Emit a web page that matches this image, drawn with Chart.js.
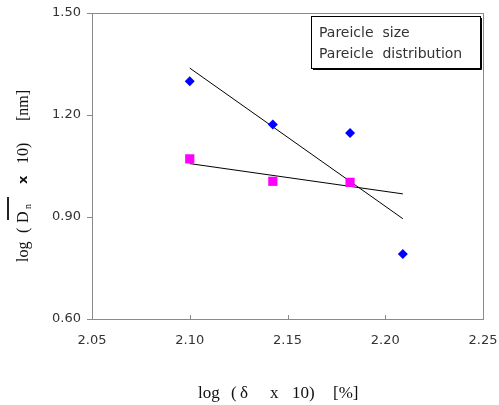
<!DOCTYPE html>
<html>
<head>
<meta charset="utf-8">
<script src="https://cdn.jsdelivr.net/npm/chart.js@4"></script>
<style>
  html, body { margin: 0; padding: 0; background: #fff; }
</style>
</head>
<body>
<canvas id="chart" width="499" height="405"></canvas>
<script>
'use strict';

// valori
const sizeX = [2.100, 2.1425, 2.182, 2.209];
const sizeY = [1.299, 1.172, 1.147, 0.791];
const distX = [2.100, 2.1425, 2.182];
const distY = [1.071, 1.005, 1.002];

// estremi delle rette di tendenza
const sizeFitX = [2.100, 2.209];
const sizeFitY = [1.338, 0.895];
const distFitX = [2.100, 2.209];
const distFitY = [1.057, 0.968];

const xTicks = [2.05, 2.10, 2.15, 2.20, 2.25];
const yTicks = [0.60, 0.90, 1.20, 1.50];
const legendLabels = ['Pareicle  size', 'Pareicle  distribution'];

const axisColor = '#8a8a8a';
const labelColor = '#333';
const serif = '"Liberation Serif", serif';

function toPoints(xs, ys) {
  return xs.map((x, i) => ({ x: x, y: ys[i] }));
}

const frame = {
  id: 'frame',
  afterDraw(chart) {
    const { ctx, chartArea: a, scales } = chart;
    ctx.save();
    // bordo dell'area del grafico
    ctx.strokeStyle = axisColor;
    ctx.lineWidth = 1;
    ctx.strokeRect(Math.round(a.left) + 0.5, Math.round(a.top) + 0.5, Math.round(a.right - a.left), Math.round(a.bottom - a.top));

    // tacche interne sull'asse x
    xTicks.forEach((v) => {
      const px = Math.round(scales.x.getPixelForValue(v)) + 0.5;
      ctx.beginPath();
      ctx.moveTo(px, a.bottom);
      ctx.lineTo(px, a.bottom - 4);
      ctx.stroke();
    });

    // legenda
    const lx = 311, ly = 16, lw = 169, lh = 52;
    ctx.fillStyle = '#fff';
    ctx.fillRect(lx, ly, lw, lh);
    ctx.strokeStyle = '#000';
    ctx.strokeRect(lx + 0.5, ly + 0.5, lw, lh);
    ctx.beginPath();
    ctx.moveTo(lx + lw + 1.5, ly + 2);
    ctx.lineTo(lx + lw + 1.5, ly + lh + 1.5);
    ctx.lineTo(lx + 2, ly + lh + 1.5);
    ctx.stroke();
    ctx.fillStyle = labelColor;
    ctx.font = '14px "DejaVu Sans", sans-serif';
    ctx.textBaseline = 'alphabetic';
    ctx.textAlign = 'left';
    ctx.fillText(legendLabels[0], 319, 37);
    ctx.fillText(legendLabels[1], 319, 58);

    // titolo asse x (spaziatura larga come nell'originale)
    ctx.fillStyle = '#111';
    ctx.font = '17px ' + serif;
    [['log', 198], ['(', 231], ['δ', 240], ['x', 270], ['10)', 292], ['[%]', 333]].forEach(([t, x]) => {
      ctx.fillText(t, x, 398);
    });

    // titolo asse y (ruotato) con D soprassegnato e pedice n
    ctx.translate(28, 0);
    ctx.rotate(-Math.PI / 2);
    const pieces = [
      ['log', 262, '16px ' + serif, 0],
      ['(', 233, '16px ' + serif, 0],
      ['D', 223, '16px ' + serif, 0],
      ['n', 209, '10px ' + serif, 3],
      ['x', 184, 'bold 13px "DejaVu Sans", sans-serif', -1],
      ['10)', 164, '16px ' + serif, 0],
      ['[nm]', 121, '16px ' + serif, 0],
    ];
    pieces.forEach(([t, y, f, dy]) => {
      ctx.font = f;
      ctx.fillText(t, -y, dy);
    });
    ctx.strokeStyle = '#222';
    ctx.lineWidth = 2;
    ctx.beginPath();
    ctx.moveTo(-220, -20);
    ctx.lineTo(-197, -20);
    ctx.stroke();
    ctx.restore();
  },
};

new Chart(document.getElementById('chart').getContext('2d'), {
  type: 'scatter',
  data: {
    datasets: [
      {
        label: 'size',
        data: toPoints(sizeX, sizeY),
        pointStyle: 'rectRot',
        pointRadius: 5,
        backgroundColor: '#0000ff',
        borderColor: '#0000ff',
        borderWidth: 0,
      },
      {
        label: 'distribution',
        data: toPoints(distX, distY),
        pointStyle: 'rect',
        pointRadius: 6.5,
        backgroundColor: '#ff00ff',
        borderColor: '#ff00ff',
        borderWidth: 0,
      },
      {
        label: 'size fit',
        data: toPoints(sizeFitX, sizeFitY),
        showLine: true,
        borderColor: '#000',
        borderWidth: 1,
        pointRadius: 0,
      },
      {
        label: 'distribution fit',
        data: toPoints(distFitX, distFitY),
        showLine: true,
        borderColor: '#000',
        borderWidth: 1,
        pointRadius: 0,
      },
    ],
  },
  options: {
    responsive: false,
    animation: false,
    devicePixelRatio: 1,
    layout: { padding: { left: 0, top: 13, right: 16, bottom: 0 } },
    plugins: {
      legend: { display: false },
      tooltip: { enabled: false },
    },
    scales: {
      x: {
        type: 'linear',
        min: 2.05,
        max: 2.25,
        afterBuildTicks: (scale) => { scale.ticks = xTicks.map((v) => ({ value: v })); },
        afterFit: (scale) => {
          scale.height = 86;
          scale.paddingLeft = 0;
          scale.paddingRight = 0;
        },
        ticks: {
          color: labelColor,
          font: { family: 'DejaVu Sans', size: 13 },
          padding: 14,
          maxRotation: 0,
          callback: (v) => v.toFixed(2),
        },
        grid: { display: false, drawTicks: false },
        border: { display: false },
      },
      y: {
        type: 'linear',
        min: 0.6,
        max: 1.5,
        afterBuildTicks: (scale) => { scale.ticks = yTicks.map((v) => ({ value: v })); },
        afterFit: (scale) => {
          scale.width = 92;
          scale.paddingTop = 0;
          scale.paddingBottom = 0;
        },
        ticks: {
          color: labelColor,
          font: { family: 'DejaVu Sans', size: 13 },
          padding: 6,
          callback: (v) => v.toFixed(2),
        },
        grid: { drawOnChartArea: false, drawTicks: true, tickLength: 5, color: axisColor },
        border: { display: false },
      },
    },
  },
  plugins: [frame],
});
</script>
</body>
</html>
